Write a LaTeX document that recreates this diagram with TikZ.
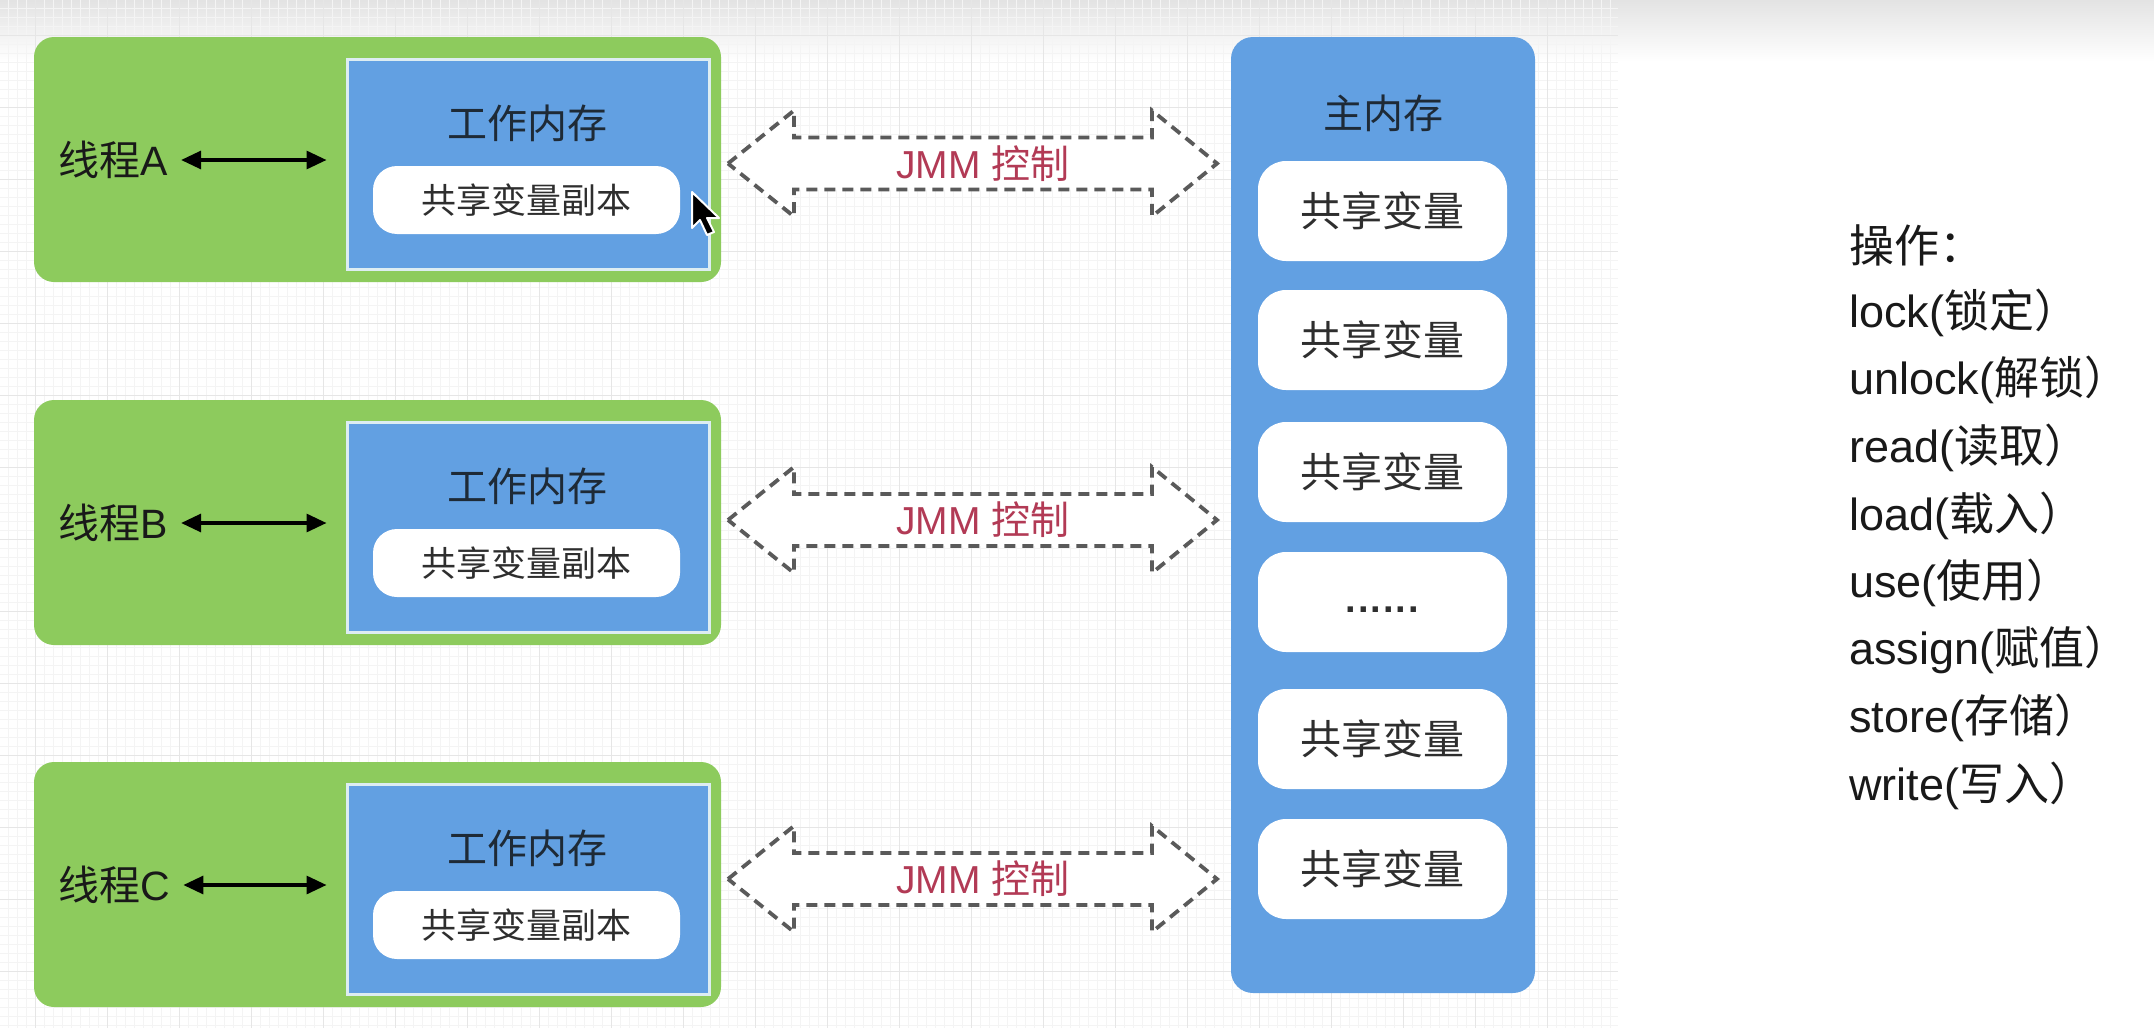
\documentclass[tikz,border=0pt]{standalone}
\usepackage{fontspec}
\setmainfont{Liberation Sans}
\newfontfamily\cjk{Noto Sans CJK SC}
\usetikzlibrary{arrows.meta}
\definecolor{tgreen}{HTML}{8DCB5D}
\definecolor{tblue}{HTML}{62A0E2}
\definecolor{wmborder}{HTML}{DDEDF2}
\definecolor{jmmred}{HTML}{B23A55}
\definecolor{dashgray}{HTML}{5A5A5A}
\definecolor{gridmin}{HTML}{F4F4F4}
\definecolor{gridmaj}{HTML}{E6E6E6}
\definecolor{titletxt}{HTML}{1E2A36}
\definecolor{pilltxt}{HTML}{2E2E2E}
\newcommand\onedot{\makebox[6.25pt]{.}}
\begin{document}
\begin{tikzpicture}[x=0.5pt,y=-0.5pt,
  greenbox/.style={fill=tgreen, rounded corners=10pt, inner sep=0pt,
    minimum width=687*0.5pt, minimum height=245*0.5pt},
  wmbox/.style={fill=tblue, draw=wmborder, line width=1.5pt, inner sep=0pt,
    minimum width=362*0.5pt, minimum height=210*0.5pt},
  mainbox/.style={fill=tblue, rounded corners=11pt, inner sep=0pt,
    minimum width=304*0.5pt, minimum height=956*0.5pt},
  copypill/.style={fill=white, rounded corners=12pt, inner sep=0pt,
    minimum width=307*0.5pt, minimum height=68*0.5pt, text=pilltxt,
    font=\cjk\fontsize{17.5}{20}\selectfont},
  mainpill/.style={fill=white, rounded corners=14pt, inner sep=0pt,
    minimum width=249*0.5pt, minimum height=100*0.5pt, text=pilltxt,
    font=\cjk\fontsize{20.5}{24}\selectfont},
  titletext/.style={inner sep=0pt, text=titletxt, font=\cjk\fontsize{20}{24}\selectfont},
  threadlabel/.style={inner sep=0pt, anchor=west, text=black!90,
    font=\fontsize{20.5}{24}\selectfont},
  bidir/.style={{Triangle[length=10pt,width=9pt]}-{Triangle[length=10pt,width=9pt]}, line width=1.6pt, black},
  jmmshape/.style={fill=white, draw=dashgray, line width=1.9pt, dash pattern=on 5.5pt off 3.5pt},
  jmmlabel/.style={inner sep=0pt, text=jmmred, font=\fontsize{19.5}{23}\selectfont},
  listtxt/.style={inner sep=0pt, anchor=base west, text=black!90, font=\fontsize{22.5}{26}\selectfont}
]
\useasboundingbox (0,0) rectangle (2154,1028);
\fill[white] (0,0) rectangle (2154,1028);
% top gradient
\shade[top color=black!11, bottom color=white] (0,0) rectangle (2154,62);
% grid
\foreach \gx in {8,17,...,1618} \draw[gridmin, line width=0.5pt] (\gx,0) -- (\gx,1028);
\foreach \gy in {8,17,...,1028} \draw[gridmin, line width=0.5pt] (0,\gy) -- (1618,\gy);
\foreach \gx in {35,107,...,1618} \draw[gridmaj, line width=0.5pt] (\gx,0) -- (\gx,1028);
\foreach \gy in {35,107,...,1028} \draw[gridmaj, line width=0.5pt] (0,\gy) -- (1618,\gy);

% threads
\foreach \t/\dy in {A/0,B/363,C/725}{
  \node[greenbox] (th\t) at (377.5,159.5+\dy) {};
  \node[wmbox] (wm\t) at (528,164+\dy) {};
  \node[titletext] (wmt\t) at (527,123+\dy) {工作内存};
  \node[copypill] (cp\t) at (526.5,200+\dy) {共享变量副本};
  \node[threadlabel] (lb\t) at (58,160+\dy) {{\cjk 线程}\t};
  \draw[bidir] ([xshift=6.5pt]lb\t.east) -- ([xshift=-9.5pt]lb\t.east -| wm\t.west);
}

% main memory
\node[mainbox] (mm) at (1383,515) {};
\node[titletext] (mmt) at (1383,113) {主内存};
\node[mainpill] (v1) at (1382.5,211) {共享变量};
\node[mainpill] (v2) at (1382.5,340) {共享变量};
\node[mainpill] (v3) at (1382.5,472) {共享变量};
\node[mainpill] (v4) at (1382.5,602) {};
\node[inner sep=0pt, anchor=base, text=pilltxt, font=\bfseries\fontsize{19}{24}\selectfont] (v4t) at (1382.5,612) {\onedot\onedot\onedot\onedot\onedot\onedot};
\node[mainpill] (v5) at (1382.5,739) {共享变量};
\node[mainpill] (v6) at (1382.5,869) {共享变量};

% JMM arrows
\foreach \n/\c in {A/163.5,B/520,C/879}{
  \draw[jmmshape] (728,\c) -- (794,\c-53) -- (794,\c-26) -- (1152,\c-26) -- (1152,\c-53)
    -- (1217,\c) -- (1152,\c+53) -- (1152,\c+26) -- (794,\c+26) -- (794,\c+53) -- cycle;
  \node[jmmlabel] (jmm\n) at (983,\c) {JMM {\cjk 控制}};
}

% operations list
\node[listtxt] (op0) at (1849,262) {{\cjk 操作：}};
\node[listtxt] (op1) at (1849,327) {lock({\cjk 锁定）}};
\node[listtxt] (op2) at (1849,394) {unlock({\cjk 解锁）}};
\node[listtxt] (op3) at (1849,462) {read({\cjk 读取）}};
\node[listtxt] (op4) at (1849,530) {load({\cjk 载入）}};
\node[listtxt] (op5) at (1849,597) {use({\cjk 使用）}};
\node[listtxt] (op6) at (1849,664) {assign({\cjk 赋值）}};
\node[listtxt] (op7) at (1849,732) {store({\cjk 存储）}};
\node[listtxt] (op8) at (1849,800) {write({\cjk 写入）}};

% mouse cursor
\draw[fill=black, draw=white, line width=1pt, line join=round]
  (692,192) -- (692,228) -- (700,220) -- (707,235) -- (714,232) -- (707,218) -- (719,218) -- cycle;
\end{tikzpicture}
\end{document}
